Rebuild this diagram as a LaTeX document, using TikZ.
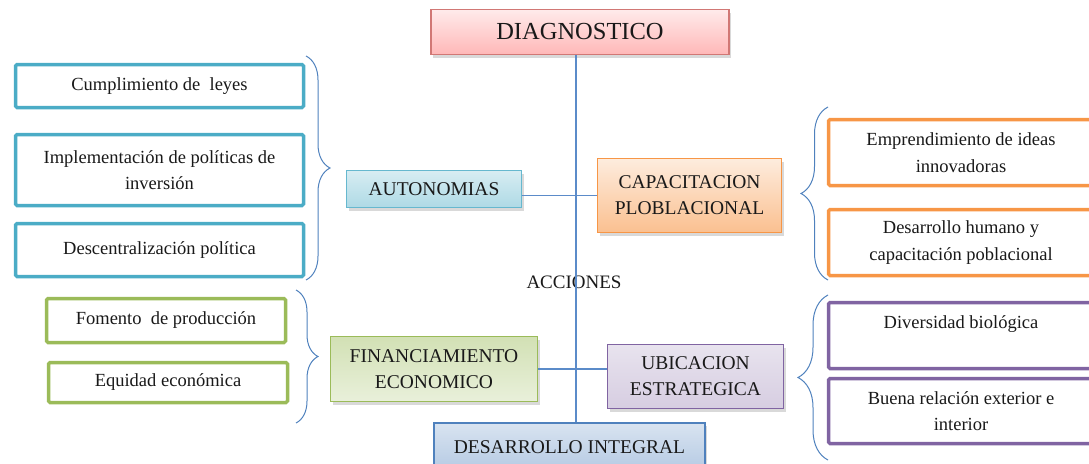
\documentclass[tikz,border=0pt]{standalone}
\usepackage{fontspec}
\setmainfont{Liberation Serif}
\usetikzlibrary{positioning,calc,shadows,decorations.pathreplacing}

\definecolor{rojo}{HTML}{C9605D}
\definecolor{cian}{HTML}{4BACC6}
\definecolor{naranja}{HTML}{F79646}
\definecolor{verde}{HTML}{9BBB59}
\definecolor{morado}{HTML}{8064A2}
\definecolor{azul}{HTML}{4F81BD}
\definecolor{linea}{HTML}{5B8BC9}

\begin{document}
\begin{tikzpicture}[
    x=1pt, y=-1pt,
    hoja/.style={ draw=#1,
      line width=3.5pt,
      rounded corners=1.5pt,
      fill=white,
      anchor=center,
      align=center,
      inner sep=0pt,
      text=black!90,
      font=\fontsize{18.5}{26.5}\selectfont},
    eje/.style={ draw=#1,
      line width=1.2pt,
      anchor=center,
      align=center,
      inner sep=0pt,
      text=black!90,
      font=\fontsize{19.5}{26}\selectfont,
      drop shadow={shadow xshift=2pt, shadow yshift=-3pt, opacity=0.3}},
    llave/.style={ draw=azul,
      line width=1pt,
      decorate,
      decoration={brace, amplitude=#1}}]
    \useasboundingbox (0,0) rectangle (1089,463);

    % centro
    \node[eje=rojo!85, top color=red!8, bottom color=red!28,
      minimum width=298pt, minimum height=45pt,
      font=\fontsize{24.5}{26}\selectfont] (diag) at (580,32) {DIAGNOSTICO};
    \node[eje=azul, top color=azul!22, bottom color=azul!42,
      minimum width=271pt, minimum height=48pt] (des) at (569.5,447) {DESARROLLO INTEGRAL};
    \node[font=\fontsize{19}{20}\selectfont, text=black!90] (acc) at (574,282) {ACCIONES};
    \draw[linea, line width=1.2pt] (diag.south -| 576,0) -- (des.north -| 576,0);

    \node[eje=cian!85, top color=cian!22, bottom color=cian!45,
      minimum width=175pt, minimum height=37pt] (auto) at (434,189) {AUTONOMIAS};
    \node[eje=naranja, top color=naranja!18, bottom color=naranja!60,
      minimum width=184pt, minimum height=74pt] (capa) at (689.5,195.5) {CAPACITACION\\PLOBLACIONAL};
    \node[eje=verde, top color=verde!45, bottom color=verde!22,
      minimum width=207pt, minimum height=65pt] (fina) at (434,369) {FINANCIAMIENTO\\ECONOMICO};
    \node[eje=morado, top color=morado!18, bottom color=morado!32,
      minimum width=176pt, minimum height=64pt] (ubic) at (695.5,376.5) {UBICACION\\ESTRATEGICA};

    \draw[linea, line width=1.2pt] (capa.west -| auto.east) -- (capa.west);
    \draw[linea, line width=1.2pt] (fina.east) -- (fina.east -| ubic.west);

    % izquierda arriba
    \node[hoja=cian, minimum width=288pt, minimum height=43pt] (leyes) at (159.5,86) {Cumplimiento de~~leyes};
    \node[hoja=cian, minimum width=288pt, minimum height=71pt] (inve) at (159.5,170) {Implementación de políticas de\\inversión};
    \node[hoja=cian, minimum width=288pt, minimum height=53pt] (desc) at (159.5,250) {Descentralización política};
    \coordinate (la1) at (306,56);
    \coordinate (la2) at (306,280);
    \draw[llave=24pt] (la1) -- (la2);

    % izquierda abajo
    \node[hoja=verde, minimum width=239pt, minimum height=44pt] (fome) at (166,320.5) {Fomento~~de producción};
    \node[hoja=verde, minimum width=239pt, minimum height=40pt] (equi) at (168,382.5) {Equidad económica};
    \coordinate (lb1) at (296,290);
    \coordinate (lb2) at (296,423);
    \draw[llave=22pt] (lb1) -- (lb2);

    % derecha arriba
    \node[hoja=naranja, minimum width=265pt, minimum height=66pt] (empr) at (961,152.5) {Emprendimiento de ideas\\innovadoras};
    \node[hoja=naranja, minimum width=265pt, minimum height=66pt] (huma) at (961,242.5) {Desarrollo humano y\\capacitación poblacional};
    \coordinate (lc1) at (828,107);
    \coordinate (lc2) at (828,280);
    \draw[llave=27pt] (lc2) -- (lc1);

    % derecha abajo
    \node[hoja=morado, minimum width=265pt, minimum height=66pt] (dive) at (961,335.5) {Diversidad biológica\\\mbox{}};
    \node[hoja=morado, minimum width=265pt, minimum height=65pt] (buen) at (961,411) {Buena relación exterior e\\interior};
    \coordinate (ld1) at (828,295);
    \coordinate (ld2) at (828,460);
    \draw[llave=30pt] (ld2) -- (ld1);
\end{tikzpicture}
\end{document}
